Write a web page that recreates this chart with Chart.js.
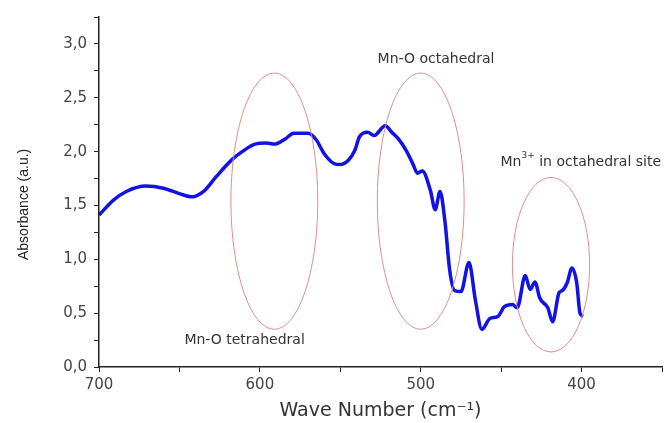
<!DOCTYPE html>
<html>
<head>
<meta charset="utf-8">
<script src="https://cdn.jsdelivr.net/npm/chart.js@4.4.1/dist/chart.umd.min.js"></script>
<style>
  html, body { margin: 0; padding: 0; background: #fff; }
  #wrap { width: 669px; height: 423px; }
</style>
</head>
<body>
<div id="wrap"><canvas id="irChart"></canvas></div>
<script>
// wave numbers (cm-1) and absorbance
const waveNumbers = [700, 691, 683, 671, 660, 650, 642, 635, 627, 617, 611, 603, 596, 591, 584, 579, 570, 565, 560, 554,
  550, 545, 541, 538, 533, 529, 522, 518, 514, 509, 505, 502, 499, 494, 491, 488, 485, 482, 479, 475,
  470, 466, 462, 457, 452, 448, 443, 440, 435, 432, 429, 426, 421, 418, 414, 412, 409, 406, 403, 401, 399];
const absorbance = [1.41, 1.55, 1.63, 1.68, 1.66, 1.61, 1.58, 1.63, 1.77, 1.93, 2.00, 2.07, 2.08, 2.07, 2.12, 2.17, 2.17, 2.11, 1.98, 1.89,
  1.88, 1.92, 2.01, 2.14, 2.18, 2.15, 2.24, 2.18, 2.12, 2.01, 1.89, 1.80, 1.82, 1.64, 1.46, 1.63, 1.36, 0.90, 0.71, 0.70,
  0.97, 0.62, 0.35, 0.45, 0.47, 0.56, 0.58, 0.55, 0.85, 0.72, 0.79, 0.64, 0.55, 0.42, 0.69, 0.71, 0.78, 0.92, 0.78, 0.50, 0.47];

// band regions marked with ellipses: centre (x, y) and half widths, in data units
const bandCentreX = [591, 500, 419];
const bandCentreY = [1.54, 1.54, 0.95];
const bandHalfX = [27, 27, 24];
const bandHalfY = [1.19, 1.19, 0.81];

// band labels at data positions, "|..|" marks a superscript
const labelText = ['Mn-O tetrahedral', 'Mn-O octahedral', 'Mn|3+| in octahedral site'];
const labelX = [609.5, 490.5, 400.5];
const labelY = [0.25, 2.86, 1.90];

const yTicks = [0, 0.5, 1, 1.5, 2, 2.5, 3];
const xTicks = [700, 600, 500, 400];

const points = waveNumbers.map((w, i) => ({ x: w, y: absorbance[i] }));

const bandPlugin = {
  id: 'bands',
  afterDatasetsDraw(chart) {
    const ctx = chart.ctx;
    const xs = chart.scales.x;
    const ys = chart.scales.y;
    ctx.save();
    ctx.strokeStyle = 'rgb(226,140,140)';
    ctx.lineWidth = 1;
    for (let i = 0; i < bandCentreX.length; i++) {
      const cx = xs.getPixelForValue(bandCentreX[i]);
      const cy = ys.getPixelForValue(bandCentreY[i]);
      const rx = Math.abs(xs.getPixelForValue(bandCentreX[i] + bandHalfX[i]) - cx);
      const ry = Math.abs(ys.getPixelForValue(bandCentreY[i] + bandHalfY[i]) - cy);
      ctx.beginPath();
      ctx.ellipse(cx, cy, rx, ry, 0, 0, Math.PI * 2);
      ctx.stroke();
    }
    ctx.fillStyle = '#333';
    ctx.textBaseline = 'middle';
    ctx.textAlign = 'left';
    const big = '14px "DejaVu Sans"';
    const small = '9px "DejaVu Sans"';
    for (let i = 0; i < labelText.length; i++) {
      const parts = labelText[i].split('|');
      let total = 0;
      parts.forEach((p, k) => {
        ctx.font = k % 2 ? small : big;
        total += ctx.measureText(p).width;
      });
      let x = xs.getPixelForValue(labelX[i]) - total / 2;
      const y = ys.getPixelForValue(labelY[i]);
      parts.forEach((p, k) => {
        ctx.font = k % 2 ? small : big;
        ctx.fillText(p, x, k % 2 ? y - 7 : y);
        x += ctx.measureText(p).width;
      });
    }
    // y axis title, a bit below the middle of the axis as in the original
    ctx.translate(24, ys.getPixelForValue(1.51));
    ctx.rotate(-Math.PI / 2);
    ctx.textAlign = 'center';
    ctx.font = '14px "Liberation Sans"';
    ctx.fillStyle = '#222';
    ctx.fillText('Absorbance (a.u.)', 0, 0);
    ctx.restore();
  }
};

new Chart(document.getElementById('irChart'), {
  type: 'line',
  data: {
    datasets: [{
      data: points,
      borderColor: 'rgb(18,18,230)',
      borderWidth: 3.5,
      pointRadius: 0,
      cubicInterpolationMode: 'monotone',
      fill: false
    }]
  },
  options: {
    responsive: true,
    maintainAspectRatio: false,
    animation: false,
    layout: { padding: { top: 17, right: 7, left: 0, bottom: 0 } },
    plugins: {
      legend: { display: false },
      tooltip: { enabled: false }
    },
    scales: {
      x: {
        type: 'linear',
        reverse: true,
        min: 350,
        max: 700,
        afterFit(scale) { scale.height = 56; },
        border: { display: true, color: '#222', width: 1.5 },
        grid: { drawOnChartArea: false, drawTicks: true, tickLength: 5, color: '#222' },
        ticks: {
          stepSize: 50,
          autoSkip: false,
          maxRotation: 0,
          padding: 4,
          color: '#444',
          font: { family: 'DejaVu Sans', size: 15 },
          callback: (v) => xTicks.includes(v) ? String(v) : ''
        },
        title: {
          display: true,
          text: 'Wave Number (cm⁻¹)',
          color: '#333',
          font: { family: 'DejaVu Sans', size: 19 },
          padding: { top: 0, bottom: 1 }
        }
      },
      y: {
        min: 0,
        max: 3.25,
        afterFit(scale) { scale.width = 99; },
        border: { display: true, color: '#222', width: 1.5 },
        grid: { drawOnChartArea: false, drawTicks: true, tickLength: 5, color: '#222' },
        ticks: {
          stepSize: 0.25,
          autoSkip: false,
          padding: 7,
          color: '#444',
          font: { family: 'DejaVu Sans', size: 15 },
          callback: (v) => yTicks.includes(v) ? v.toFixed(1).replace('.', ',') : ''
        }
      }
    }
  },
  plugins: [bandPlugin]
});
</script>
</body>
</html>
